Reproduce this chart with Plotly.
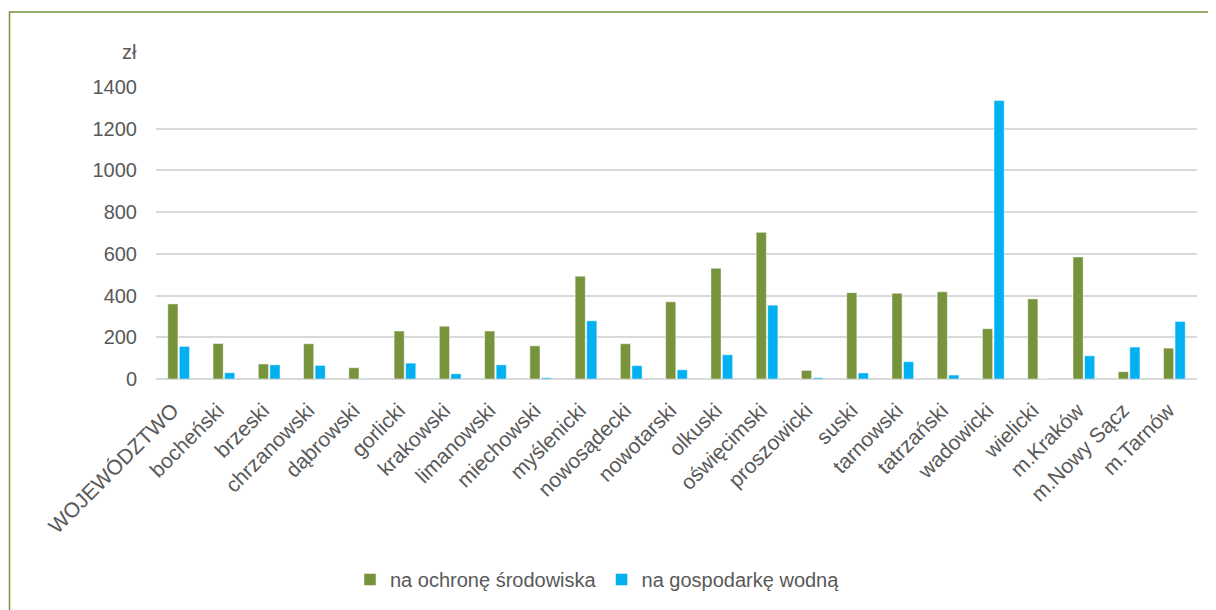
import plotly.graph_objects as go

categories = ["WOJEWÓDZTWO", "bocheński", "brzeski", "chrzanowski", "dąbrowski", "gorlicki",
              "krakowski", "limanowski", "miechowski", "myślenicki", "nowosądecki", "nowotarski",
              "olkuski", "oświęcimski", "proszowicki", "suski", "tarnowski", "tatrzański",
              "wadowicki", "wielicki", "m.Kraków", "m.Nowy Sącz", "m.Tarnów"]

ochrona = [360, 170, 72, 169, 54, 230, 253, 230, 159, 493, 169, 370, 531, 703, 41, 414,
           411, 418, 241, 384, 585, 35, 148]
gospodarka = [156, 30, 68, 65, 2, 76, 25, 68, 6, 279, 64, 44, 116, 354, 6, 29,
              83, 19, 1335, 0, 111, 153, 276]

y_ticks = [0, 200, 400, 600, 800, 1000, 1200, 1400]

GREEN = "#77933C"
BLUE = "#00B0F0"
TXT = "#595959"
FONT = "Liberation Sans, Arial, sans-serif"

OFF = 8  # page body margin
W, H = 1216, 610
ML = 156 - OFF
MT = 87 - OFF
ZERO = 379.3 - OFF
MB = H - ZERO
MR = W - (1197 - OFF)
PW = W - ML - MR
PH = H - MT - MB


def px_to_paper_x(px):
    return (px - OFF - ML) / PW


def py_to_paper_y(py):
    return (ZERO - (py - OFF)) / PH


fig = go.Figure()
fig.add_trace(go.Bar(x=categories, y=ochrona, name="na ochronę środowiska",
                     marker=dict(color=GREEN, line=dict(color="rgba(255,255,255,0.6)", width=0.8))))
fig.add_trace(go.Bar(x=categories, y=gospodarka, name="na gospodarkę wodną",
                     marker=dict(color=BLUE, line=dict(color="rgba(255,255,255,0.6)", width=0.8))))

fig.update_layout(
    width=W, height=H,
    margin=dict(l=ML, r=MR, t=MT, b=MB, pad=0),
    paper_bgcolor="white", plot_bgcolor="white",
    barmode="group", bargap=0.49, bargroupgap=0.12,
    font=dict(family=FONT, size=20, color=TXT),
    showlegend=True,
    legend=dict(orientation="h", x=px_to_paper_x(350), xanchor="left",
                y=py_to_paper_y(580), yanchor="middle",
                font=dict(family=FONT, size=20, color=TXT),
                itemwidth=30, traceorder="normal"),
    xaxis=dict(type="category", tickangle=-45, showgrid=False, showline=False,
               tickfont=dict(family=FONT, size=21, color=TXT), ticks="",
               ticklabelstandoff=14, ticklabelshift=-6),
    yaxis=dict(range=[0, 1400], tickvals=y_ticks, showgrid=True, gridcolor="#D9D9D9",
               gridwidth=1.5, zeroline=True, zerolinecolor="#D9D9D9", zerolinewidth=1.5,
               showline=False, ticks="", ticklabelstandoff=18,
               tickfont=dict(family=FONT, size=20, color=TXT)),
    annotations=[dict(text="zł", xref="paper", yref="paper",
                      x=px_to_paper_x(139), y=py_to_paper_y(52),
                      xanchor="right", yanchor="middle", showarrow=False,
                      font=dict(family=FONT, size=20, color=TXT))],
    shapes=[dict(type="rect", xref="paper", yref="paper",
                 x0=px_to_paper_x(9.5), x1=px_to_paper_x(1260),
                 y0=py_to_paper_y(700), y1=py_to_paper_y(12),
                 line=dict(color=GREEN, width=1.5), fillcolor="rgba(0,0,0,0)",
                 layer="below")],
)

fig.write_html("out.html")
